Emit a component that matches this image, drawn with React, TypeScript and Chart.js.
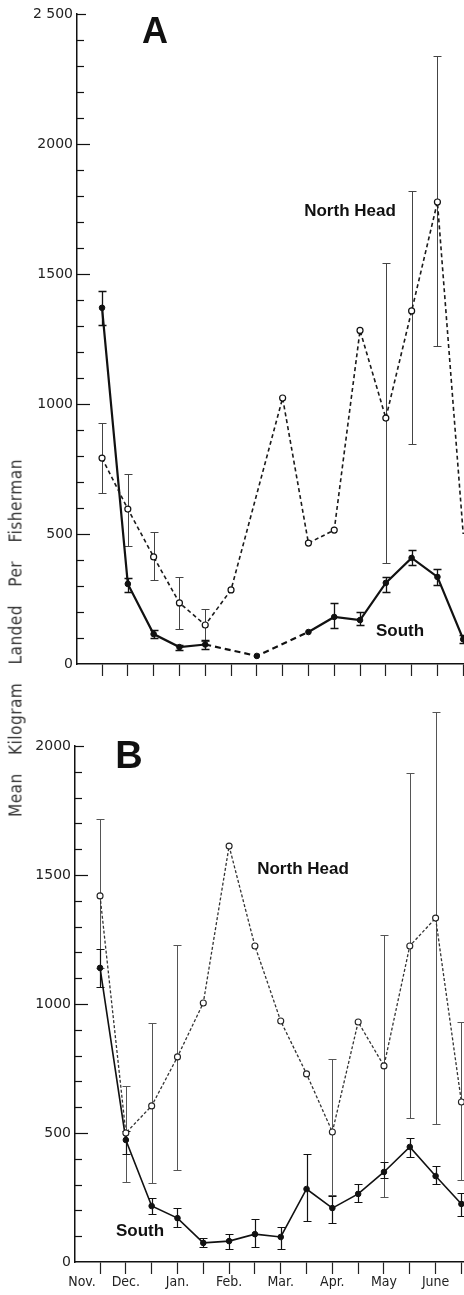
import React, { useEffect, useRef } from 'react';
import { Chart, registerables } from 'chart.js';

Chart.register(...registerables);

// ---------- data ----------
// half-month sampling points, index 0 = late November ... 14 = late June
const halfMonthIndex = [0, 1, 2, 3, 4, 5, 6, 7, 8, 9, 10, 11, 12, 13, 14];
const monthLabels = ['Nov.', 'Dec.', 'Jan.', 'Feb.', 'Mar.', 'Apr.', 'May', 'June'];
const monthTickPositions = [-0.7, 1, 3, 5, 7, 9, 11, 13];

// Panel A
const southA = [1370, 308, 115, 65, 75, null, 31, null, 123, 181, 169, 312, 408, 335, 95];
const southAHi = [1435, 331, 130, 75, 92, null, null, null, null, 235, 200, 335, 438, 365, 110];
const southALo = [1304, 277, 100, 55, 58, null, null, null, null, 138, 150, 277, 381, 304, 80];
const northA = [792, 596, 412, 235, 150, 285, null, 1023, 465, 515, 1283, 946, 1358, 1777, 500];
const northAHi = [927, 731, 508, 335, 212, null, null, null, null, null, null, 1542, 1819, 2338, null];
const northALo = [658, 454, 323, 135, 90, null, null, null, null, null, null, 388, 846, 1223, null];

// Panel B
const southB = [1140, 473, 217, 170, 74, 81, 108, 97, 283, 209, 264, 349, 446, 333, 225];
const southBHi = [1215, 508, 248, 209, 93, 108, 167, 136, 419, 256, 302, 388, 481, 372, 267];
const southBLo = [1066, 419, 186, 136, 58, 50, 58, 50, 159, 151, 233, 326, 407, 302, 178];
const northB = [1419, 500, 605, 795, 1004, 1612, 1225, 934, 729, 504, 930, 760, 1225, 1333, 620];
const northBHi = [1717, 682, 926, 1229, null, null, null, null, null, 787, null, 1267, 1895, 2132, 930];
const northBLo = [1140, 310, 306, 357, null, null, null, null, null, 260, null, 252, 558, 535, 318];

const yTicksA = { max: 2500, step: 100, major: 500 };
const yTicksB = { max: 2000, step: 100, major: 500 };

// ---------- plugins ----------
const errorBarPlugin = {
  id: 'errorBars',
  beforeDatasetsDraw(chart: any) {
    const ctx = chart.ctx;
    const xs = chart.scales.x;
    const ys = chart.scales.y;
    chart.data.datasets.forEach((ds: any) => {
      if (!ds.errHi) return;
      ctx.save();
      ctx.strokeStyle = ds.errColor;
      ctx.lineWidth = ds.errWidth;
      ds.errHi.forEach((hi: number | null, i: number) => {
        const lo = ds.errLo[i];
        if (hi == null || lo == null) return;
        const x = Math.round(xs.getPixelForValue(halfMonthIndex[i])) + 0.5;
        const y1 = Math.round(ys.getPixelForValue(hi)) + 0.5;
        const y2 = Math.round(ys.getPixelForValue(lo)) + 0.5;
        ctx.beginPath();
        ctx.moveTo(x, y1);
        ctx.lineTo(x, y2);
        ctx.moveTo(x - 4, y1);
        ctx.lineTo(x + 4, y1);
        ctx.moveTo(x - 4, y2);
        ctx.lineTo(x + 4, y2);
        ctx.stroke();
      });
      ctx.restore();
    });
  },
};

const inwardTicksPlugin = {
  id: 'inwardTicks',
  afterDraw(chart: any) {
    const ys = chart.scales.y;
    const ctx = chart.ctx;
    const x0 = chart.chartArea.left;
    ctx.save();
    ctx.strokeStyle = '#111';
    ctx.lineWidth = 1.2;
    ys.ticks.forEach((t: any) => {
      if (t.value === ys.min) return;
      const y = Math.round(ys.getPixelForValue(t.value)) + 0.5;
      const len = t.value % 500 === 0 ? (t.value === ys.max ? 9 : 13) : 7;
      ctx.beginPath();
      ctx.moveTo(x0, y);
      ctx.lineTo(x0 + len, y);
      ctx.stroke();
    });
    ctx.restore();
  },
};

const toPoints = (arr: (number | null)[]) => arr.map((v, i) => ({ x: halfMonthIndex[i], y: v }));

const gapDash = (value: number[]) => (ctx: any) =>
  ctx.p0.skip || ctx.p1.skip ? value : undefined;

function makeConfig(panel: 'A' | 'B'): any {
  const isA = panel === 'A';
  const yInfo = isA ? yTicksA : yTicksB;
  const yWidth = isA ? 77 : 75;
  const xMax = isA ? 14.03 : 14.1;
  const xTickVals = isA ? halfMonthIndex.slice() : [monthTickPositions[0], ...halfMonthIndex];

  const datasets = isA
    ? [
        {
          label: 'North Head',
          data: toPoints(northA),
          errHi: northAHi,
          errLo: northALo,
          errColor: '#444',
          errWidth: 1,
          borderColor: '#1a1a1a',
          borderWidth: 1.6,
          borderDash: [4, 3],
          pointRadius: (ctx: any) => (ctx.dataIndex === northA.length - 1 ? 0 : 3),
          pointBorderWidth: 1.2,
          pointBackgroundColor: '#fff',
          pointBorderColor: '#111',
          spanGaps: true,
          tension: 0,
        },
        {
          label: 'South',
          data: toPoints(southA),
          errHi: southAHi,
          errLo: southALo,
          errColor: '#111',
          errWidth: 1.3,
          borderColor: '#111',
          borderWidth: 2.2,
          pointRadius: 2.8,
          pointBorderWidth: 1,
          pointBackgroundColor: '#111',
          pointBorderColor: '#111',
          spanGaps: true,
          tension: 0,
          segment: { borderDash: gapDash([6, 4]) },
        },
      ]
    : [
        {
          label: 'North Head',
          data: toPoints(northB),
          errHi: northBHi,
          errLo: northBLo,
          errColor: '#555',
          errWidth: 1,
          borderColor: '#333',
          borderWidth: 1.3,
          borderDash: [3, 2],
          pointRadius: 3,
          pointBorderWidth: 1.1,
          pointBackgroundColor: '#fff',
          pointBorderColor: '#222',
          spanGaps: true,
          tension: 0,
        },
        {
          label: 'South',
          data: toPoints(southB),
          errHi: southBHi,
          errLo: southBLo,
          errColor: '#111',
          errWidth: 1.2,
          borderColor: '#111',
          borderWidth: 1.6,
          pointRadius: 2.8,
          pointBorderWidth: 1,
          pointBackgroundColor: '#111',
          pointBorderColor: '#111',
          spanGaps: true,
          tension: 0,
        },
      ];

  return {
    type: 'line',
    data: { datasets },
    options: {
      animation: false,
      responsive: false,
      maintainAspectRatio: false,
      layout: { autoPadding: false, padding: { top: isA ? 14 : 46, left: 0, right: 0, bottom: 0 } },
      plugins: { legend: { display: false }, tooltip: { enabled: false } },
      scales: {
        x: {
          type: 'linear',
          min: -0.97,
          max: xMax,
          afterBuildTicks: (scale: any) => {
            scale.ticks = xTickVals.map((v) => ({ value: v }));
          },
          afterFit: (scale: any) => {
            scale.height = isA ? 36 : 33;
          },
          grid: {
            display: true,
            drawOnChartArea: false,
            drawTicks: true,
            tickLength: 12,
            tickWidth: 1.2,
            tickColor: (ctx: any) =>
              ctx.tick && Number.isInteger(ctx.tick.value) ? '#222' : 'rgba(0,0,0,0)',
          },
          border: { display: true, color: '#111', width: 1.5 },
          ticks: {
            autoSkip: false,
            maxRotation: 0,
            minRotation: 0,
            padding: 0,
            color: '#222',
            font: { family: "'DejaVu Sans Condensed', 'DejaVu Sans', sans-serif", size: 14 },
            callback: (value: number) => {
              if (isA) return '';
              const k = monthTickPositions.indexOf(value);
              return k >= 0 ? monthLabels[k] : '';
            },
          },
        },
        y: {
          type: 'linear',
          min: 0,
          max: yInfo.max,
          afterFit: (scale: any) => {
            scale.width = yWidth;
          },
          grid: { display: true, drawOnChartArea: false, drawTicks: false },
          border: { display: true, color: '#111', width: 1.5 },
          ticks: {
            stepSize: yInfo.step,
            autoSkip: false,
            padding: 4,
            color: '#222',
            font: { family: "'DejaVu Sans', sans-serif", size: 14 },
            callback: (value: number) => {
              if (value % yInfo.major !== 0) return '';
              if (value >= 2500) return '2 500';
              return String(value);
            },
          },
        },
      },
    },
    plugins: [errorBarPlugin, inwardTicksPlugin],
  };
}

function Panel({ panel, top, height }: { panel: 'A' | 'B'; top: number; height: number }) {
  const ref = useRef<HTMLCanvasElement | null>(null);
  useEffect(() => {
    if (!ref.current) return;
    const chart = new Chart(ref.current, makeConfig(panel));
    return () => chart.destroy();
  }, [panel]);
  return (
    <div style={{ position: 'absolute', left: 0, top, width: 464, height }}>
      <canvas ref={ref} width={464} height={height} style={{ width: 464, height, display: 'block' }} />
    </div>
  );
}

const bold = "'Liberation Sans', Arial, sans-serif";

function Label({ x, y, size, text }: { x: number; y: number; size: number; text: string }) {
  return (
    <div
      style={{
        position: 'absolute',
        left: x,
        top: y,
        transform: 'translate(-50%, -50%)',
        fontFamily: bold,
        fontWeight: 'bold',
        fontSize: size,
        lineHeight: 1,
        whiteSpace: 'nowrap',
        color: '#111',
      }}
    >
      {text}
    </div>
  );
}

export default function App() {
  return (
    <div
      style={{
        position: 'absolute',
        left: 0,
        top: 0,
        width: 464,
        height: 1295,
        background: '#fff',
        overflow: 'hidden',
      }}
    >
      <Panel panel="A" top={0} height={700} />
      <Panel panel="B" top={700} height={595} />
      <Label x={155} y={31} size={36} text="A" />
      <Label x={129} y={755} size={38} text="B" />
      <Label x={350} y={210} size={17} text="North Head" />
      <Label x={400} y={630} size={17} text="South" />
      <Label x={303} y={868} size={17} text="North Head" />
      <Label x={140} y={1230} size={17} text="South" />
      <div
        style={{
          position: 'absolute',
          left: 16,
          top: 638,
          transform: 'translate(-50%, -50%) rotate(-90deg)',
          fontFamily: "'DejaVu Sans Condensed', 'DejaVu Sans', sans-serif",
          fontSize: 17,
          wordSpacing: 13,
          letterSpacing: 0.5,
          whiteSpace: 'nowrap',
          lineHeight: 1,
          color: '#333',
        }}
      >
        Mean Kilogram Landed Per Fisherman
      </div>
    </div>
  );
}
